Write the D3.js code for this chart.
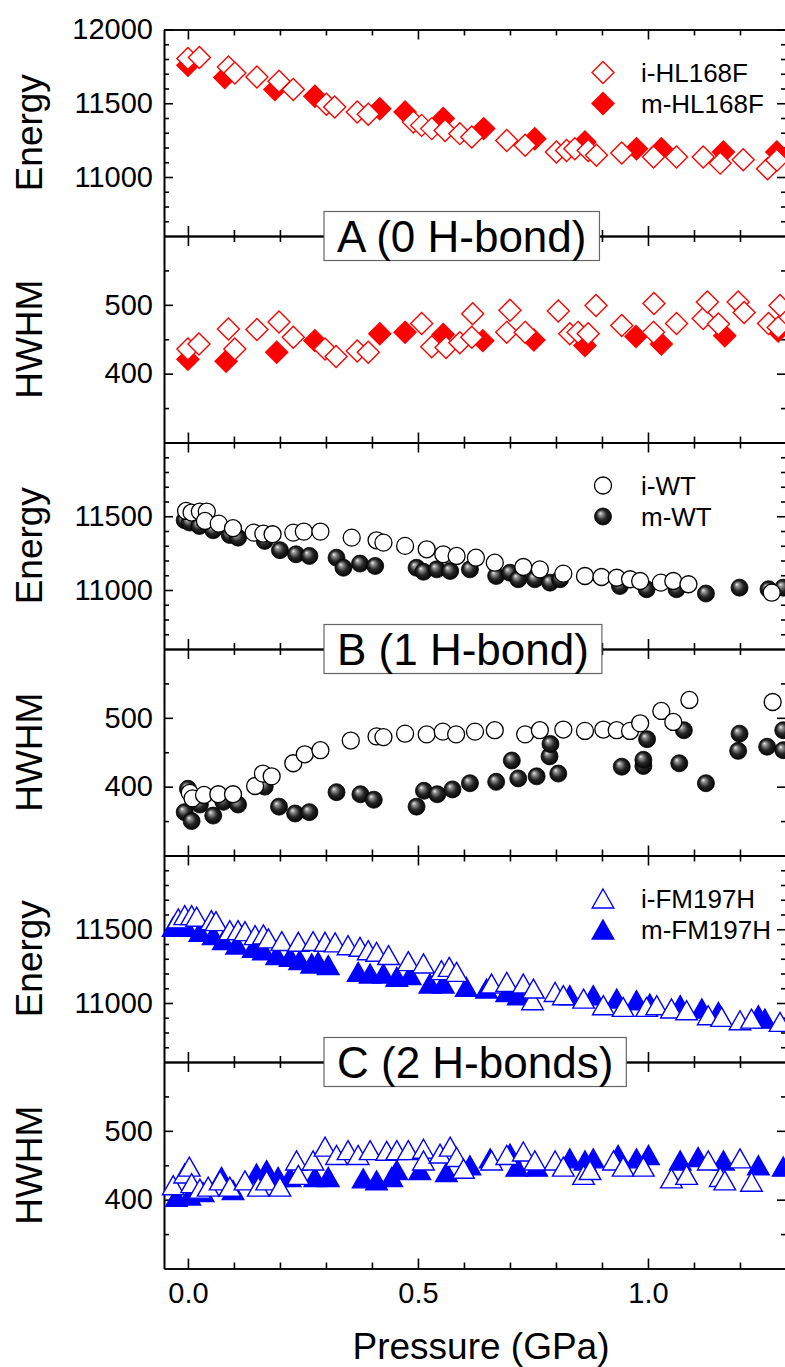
<!DOCTYPE html>
<html>
<head>
<meta charset="utf-8">
<script src="https://cdn.jsdelivr.net/npm/d3@7"></script>
<style>
  body { margin: 0; background: #fff; }
  svg text { font-family: "Liberation Sans", Arial, sans-serif; fill: #000; }
</style>
</head>
<body>
<div id="chart"></div>
<script>
// ---- data: [pressure (GPa), value] ----
const A_energy_i = [[0.000,11803],[0.025,11810],[0.088,11746],[0.102,11705],[0.150,11678],[0.198,11649],[0.229,11593],[0.301,11493],[0.319,11475],[0.368,11441],[0.392,11425],[0.490,11373],[0.508,11350],[0.530,11328],[0.559,11316],[0.591,11294],[0.617,11271],[0.693,11248],[0.733,11215],[0.801,11169],[0.823,11180],[0.841,11192],[0.870,11180],[0.888,11147],[0.943,11162],[1.012,11135],[1.062,11135],[1.120,11135],[1.157,11094],[1.207,11117],[1.260,11056],[1.280,11113]];
const A_energy_m = [[0.000,11758],[0.080,11674],[0.189,11593],[0.276,11547],[0.417,11463],[0.472,11441],[0.555,11396],[0.643,11328],[0.754,11260],[0.863,11237],[0.975,11192],[1.029,11192],[1.164,11169],[1.280,11169]];
const A_hwhm_i = [[0.000,436],[0.024,443],[0.088,465],[0.102,436],[0.150,464],[0.198,475],[0.229,453],[0.298,436],[0.322,425],[0.368,433],[0.392,431],[0.508,473],[0.530,439],[0.561,438],[0.591,445],[0.617,453],[0.619,487],[0.693,460],[0.700,492],[0.733,460],[0.805,491],[0.830,458],[0.848,460],[0.870,458],[0.887,499],[0.943,470],[1.012,460],[1.013,502],[1.062,473],[1.120,480],[1.129,504],[1.153,472],[1.196,504],[1.209,489],[1.262,473],[1.283,467],[1.287,499]];
const A_hwhm_m = [[0.000,421],[0.083,418],[0.193,431],[0.276,448],[0.417,458],[0.472,460],[0.555,457],[0.641,448],[0.752,449],[0.863,441],[0.974,454],[1.029,443],[1.167,455],[1.283,462]];

const B_energy_i = [[-0.004,11536],[0.008,11525],[0.026,11532],[0.041,11532],[0.037,11468],[0.067,11450],[0.098,11419],[0.143,11389],[0.164,11382],[0.184,11378],[0.229,11389],[0.252,11396],[0.288,11396],[0.356,11355],[0.410,11337],[0.425,11321],[0.472,11299],[0.519,11276],[0.555,11242],[0.584,11231],[0.626,11219],[0.667,11185],[0.729,11156],[0.765,11140],[0.816,11111],[0.863,11095],[0.899,11088],[0.932,11083],[0.961,11073],[0.983,11061],[1.028,11050],[1.055,11061],[1.088,11039],[1.269,10982]];
const B_energy_m = [[-0.007,11473],[0.004,11457],[0.025,11434],[0.055,11405],[0.091,11373],[0.109,11355],[0.167,11333],[0.200,11270],[0.235,11242],[0.264,11231],[0.323,11219],[0.338,11151],[0.374,11179],[0.407,11163],[0.497,11151],[0.512,11124],[0.541,11140],[0.570,11129],[0.613,11140],[0.670,11095],[0.700,11117],[0.718,11073],[0.754,11073],[0.787,11050],[0.809,11073],[0.939,11027],[0.997,11005],[1.062,11005],[1.126,10976],[1.199,11016],[1.262,11005],[1.294,11016]];
const B_hwhm_i = [[0.004,391],[0.010,383],[0.035,388],[0.066,389],[0.098,389],[0.146,401],[0.163,419],[0.182,415],[0.229,434],[0.254,447],[0.288,453],[0.354,467],[0.410,473],[0.425,472],[0.472,477],[0.519,476],[0.554,480],[0.583,476],[0.624,480],[0.667,482],[0.733,476],[0.765,482],[0.816,483],[0.863,481],[0.903,483],[0.932,482],[0.961,481],[0.983,492],[1.029,510],[1.055,494],[1.090,526],[1.271,523]];
const B_hwhm_m = [[0.000,397],[-0.007,363],[0.008,350],[0.026,374],[0.055,358],[0.077,378],[0.109,374],[0.167,400],[0.198,371],[0.233,361],[0.264,363],[0.323,392],[0.375,389],[0.404,381],[0.497,371],[0.513,394],[0.542,389],[0.575,396],[0.613,405],[0.670,407],[0.704,438],[0.718,412],[0.758,415],[0.786,444],[0.788,462],[0.805,419],[0.943,429],[0.990,430],[0.990,439],[0.998,469],[1.068,434],[1.078,482],[1.126,405],[1.196,452],[1.199,477],[1.259,458],[1.294,453],[1.294,482]];

const C_energy_i = [[-0.021,11574],[-0.007,11596],[0.008,11596],[0.019,11585],[0.051,11562],[0.061,11555],[0.091,11494],[0.109,11494],[0.124,11487],[0.146,11460],[0.164,11465],[0.175,11438],[0.204,11420],[0.240,11415],[0.272,11420],[0.298,11415],[0.320,11411],[0.348,11392],[0.374,11381],[0.392,11358],[0.410,11347],[0.436,11325],[0.479,11284],[0.512,11268],[0.551,11223],[0.568,11245],[0.584,11211],[0.660,11132],[0.693,11143],[0.729,11132],[0.749,11019],[0.751,11098],[0.798,11075],[0.816,11053],[0.860,11030],[0.903,10985],[0.946,10974],[0.997,10974],[1.019,10985],[1.051,10963],[1.084,10951],[1.131,10917],[1.160,10906],[1.200,10883],[1.225,10894],[1.287,10872]];
const C_energy_m = [[-0.032,11517],[-0.003,11517],[0.026,11483],[0.055,11460],[0.077,11426],[0.106,11397],[0.142,11374],[0.164,11358],[0.193,11325],[0.222,11313],[0.243,11291],[0.269,11268],[0.283,11279],[0.305,11257],[0.370,11211],[0.396,11200],[0.425,11200],[0.454,11177],[0.483,11189],[0.526,11132],[0.555,11132],[0.605,11109],[0.649,11098],[0.693,11075],[0.718,11053],[0.830,11053],[0.881,11053],[0.932,11030],[0.975,11019],[1.004,10996],[1.070,10985],[1.117,10963],[1.153,10940],[1.240,10917],[1.254,10894]];
const C_hwhm_i = [[-0.032,421],[-0.007,438],[0.003,448],[0.008,424],[0.026,416],[0.044,419],[0.070,428],[0.091,419],[0.124,428],[0.153,419],[0.171,428],[0.200,419],[0.236,457],[0.240,436],[0.272,457],[0.298,477],[0.323,465],[0.348,472],[0.370,465],[0.396,472],[0.432,471],[0.454,472],[0.479,472],[0.512,474],[0.512,457],[0.548,467],[0.570,477],[0.584,462],[0.599,445],[0.660,457],[0.693,465],[0.729,470],[0.754,457],[0.798,457],[0.816,448],[0.860,436],[0.874,443],[0.925,457],[0.946,448],[0.990,448],[1.051,431],[1.084,436],[1.131,457],[1.157,433],[1.167,428],[1.200,460],[1.225,426]];
const C_hwhm_m = [[-0.025,404],[0.004,406],[0.033,411],[0.073,433],[0.098,414],[0.149,438],[0.171,443],[0.196,433],[0.222,433],[0.276,433],[0.305,433],[0.381,431],[0.410,428],[0.443,433],[0.454,443],[0.504,443],[0.562,440],[0.613,450],[0.657,460],[0.700,467],[0.715,448],[0.758,448],[0.830,460],[0.863,457],[0.881,460],[0.935,465],[0.975,460],[1.001,465],[1.070,457],[1.109,462],[1.164,457],[1.240,450],[1.294,448]];

// axis ticks
const xMajor = [0, 0.5, 1.0];
const xMinor = [0.1, 0.2, 0.3, 0.4, 0.6, 0.7, 0.8, 0.9, 1.1, 1.2];
const eMajor = [11000, 11500, 12000];
const eMinor = [10700, 10800, 10900, 11100, 11200, 11300, 11400, 11600, 11700, 11800, 11900];
const hMajor = [400, 500];
const hMinor = [350, 450, 550];

const groupNames = ["A (0 H-bond)", "B (1 H-bond)", "C (2 H-bonds)"];
const seriesNames = [["i-HL168F", "m-HL168F"], ["i-WT", "m-WT"], ["i-FM197H", "m-FM197H"]];

// ---- layout ----
const width = 785, height = 1367;
const left = 164, right = 786, top0 = 29.5, panelH = 206.5;

const svg = d3.select("#chart").append("svg")
    .attr("width", width)
    .attr("height", height);

const defs = svg.append("defs");
const grad = defs.append("radialGradient").attr("id", "sphere")
    .attr("cx", "50%").attr("cy", "50%").attr("r", "55%")
    .attr("fx", "33%").attr("fy", "30%");
grad.append("stop").attr("offset", "0%").attr("stop-color", "#f4f4f4");
grad.append("stop").attr("offset", "18%").attr("stop-color", "#9a9a9a");
grad.append("stop").attr("offset", "55%").attr("stop-color", "#262626");
grad.append("stop").attr("offset", "100%").attr("stop-color", "#000");

const x = d3.scaleLinear().domain([-0.052, 1.3]).range([left, right]);

const groups = [
    { color: "#ff0000", shape: "diamond", energy: [A_energy_i, A_energy_m], hwhm: [A_hwhm_i, A_hwhm_m] },
    { color: "#000000", shape: "circle", energy: [B_energy_i, B_energy_m], hwhm: [B_hwhm_i, B_hwhm_m] },
    { color: "#0000ff", shape: "triangle", energy: [C_energy_i, C_energy_m], hwhm: [C_hwhm_i, C_hwhm_m] }
];

const diamondPath = "M0,-11L11,0L0,11L-11,0Z";
const trianglePath = "M0,-9.5L10.8,9.5L-10.8,9.5Z";

function drawMarkers(g, data, shape, color, filled, xs, ys) {
    if (shape === "circle") {
        g.selectAll(null).data(data).enter().append("circle")
            .attr("cx", d => xs(d[0]))
            .attr("cy", d => ys(d[1]))
            .attr("r", 8.5)
            .attr("fill", filled ? "url(#sphere)" : "#fff")
            .attr("stroke", "#000")
            .attr("stroke-width", filled ? 0.8 : 1.3);
    } else {
        g.selectAll(null).data(data).enter().append("path")
            .attr("d", shape === "diamond" ? diamondPath : trianglePath)
            .attr("transform", d => `translate(${xs(d[0])},${ys(d[1])})`)
            .attr("fill", filled ? color : "#fff")
            .attr("stroke", color)
            .attr("stroke-width", 1.4)
            .attr("stroke-linejoin", "miter");
    }
}

function styleAxis(a) {
    a.selectAll("path.domain").attr("stroke", "#000").attr("stroke-width", 1.6);
    a.selectAll("line").attr("stroke", "#000").attr("stroke-width", 1.6);
    a.selectAll("text").attr("font-size", 29).attr("fill", "#000");
}

groups.forEach((grp, k) => {
    ["energy", "hwhm"].forEach((kind, j) => {
        const idx = 2 * k + j;
        const pTop = top0 + idx * panelH;
        const pBot = pTop + panelH;
        const isE = kind === "energy";
        const y = d3.scaleLinear()
            .domain(isE ? [10600, 12000] : [300, 600])
            .range([pBot, pTop]);
        const major = isE ? eMajor : hMajor;
        const minor = isE ? eMinor : hMinor;
        const showLabel = d => (idx === 0 || d < 12000) ? String(d) : "";

        const panel = svg.append("g");

        // y axes, left and right, ticks inward
        const ly = panel.append("g").attr("transform", `translate(${left},0)`)
            .call(d3.axisLeft(y).tickValues(major).tickSize(-9).tickSizeOuter(0).tickPadding(11).tickFormat(showLabel));
        styleAxis(ly);
        const lym = panel.append("g").attr("transform", `translate(${left},0)`)
            .call(d3.axisLeft(y).tickValues(minor).tickSize(-5).tickSizeOuter(0).tickFormat(""));
        styleAxis(lym);
        const ry = panel.append("g").attr("transform", `translate(${right},0)`)
            .call(d3.axisRight(y).tickValues(major).tickSize(-9).tickSizeOuter(0).tickFormat(""));
        styleAxis(ry);
        const rym = panel.append("g").attr("transform", `translate(${right},0)`)
            .call(d3.axisRight(y).tickValues(minor).tickSize(-5).tickSizeOuter(0).tickFormat(""));
        styleAxis(rym);

        // x axes top and bottom, ticks inward
        const tx = panel.append("g").attr("transform", `translate(0,${pTop})`)
            .call(d3.axisTop(x).tickValues(xMajor).tickSize(-10).tickSizeOuter(0).tickFormat(""));
        styleAxis(tx);
        const txm = panel.append("g").attr("transform", `translate(0,${pTop})`)
            .call(d3.axisTop(x).tickValues(xMinor).tickSize(-6).tickSizeOuter(0).tickFormat(""));
        styleAxis(txm);
        const last = idx === 5;
        const bx = panel.append("g").attr("transform", `translate(0,${pBot})`)
            .call(d3.axisBottom(x).tickValues(xMajor).tickSize(-10).tickSizeOuter(0).tickPadding(14)
                .tickFormat(last ? d3.format(".1f") : ""));
        styleAxis(bx);
        const bxm = panel.append("g").attr("transform", `translate(0,${pBot})`)
            .call(d3.axisBottom(x).tickValues(xMinor).tickSize(-6).tickSizeOuter(0).tickFormat(""));
        styleAxis(bxm);

        // axis title
        panel.append("text")
            .attr("transform", `translate(42,${(pTop + pBot) / 2}) rotate(-90)`)
            .attr("text-anchor", "middle")
            .attr("font-size", 37)
            .text(isE ? "Energy" : "HWHM");

        // points: filled first, hollow on top
        const data = grp[kind];
        const pts = panel.append("g");
        drawMarkers(pts, data[1], grp.shape, grp.color, true, x, y);
        drawMarkers(pts, data[0], grp.shape, grp.color, false, x, y);

        // legend in energy panels
        if (isE) {
            const lg = panel.append("g");
            const rows = [pTop + 43, pTop + 74];
            const ident = d3.scaleLinear();
            drawMarkers(lg, [[603, rows[0]]], grp.shape, grp.color, false, ident, ident);
            drawMarkers(lg, [[603, rows[1]]], grp.shape, grp.color, true, ident, ident);
            lg.selectAll("text.leg").data(seriesNames[k]).enter().append("text")
                .attr("class", "leg")
                .attr("x", 641)
                .attr("y", (d, i) => rows[i])
                .attr("dy", "0.36em")
                .attr("font-size", 26)
                .text(d => d);
        }
    });

    // group label box on the boundary between energy and HWHM panels
    const yb = top0 + (2 * k + 1) * panelH;
    const lab = svg.append("g");
    const rect = lab.append("rect");
    const t = lab.append("text")
        .attr("x", 337)
        .attr("y", yb + 15.5)
        .attr("font-size", 44)
        .text(groupNames[k]);
    const tw = t.node().getComputedTextLength();
    rect.attr("x", 324).attr("y", yb - 24.5)
        .attr("width", tw + 26).attr("height", 49)
        .attr("fill", "#fff").attr("stroke", "#666").attr("stroke-width", 1.2);
});

// x axis title
svg.append("text")
    .attr("x", 481)
    .attr("y", 1359)
    .attr("text-anchor", "middle")
    .attr("font-size", 37)
    .text("Pressure (GPa)");
</script>
</body>
</html>
